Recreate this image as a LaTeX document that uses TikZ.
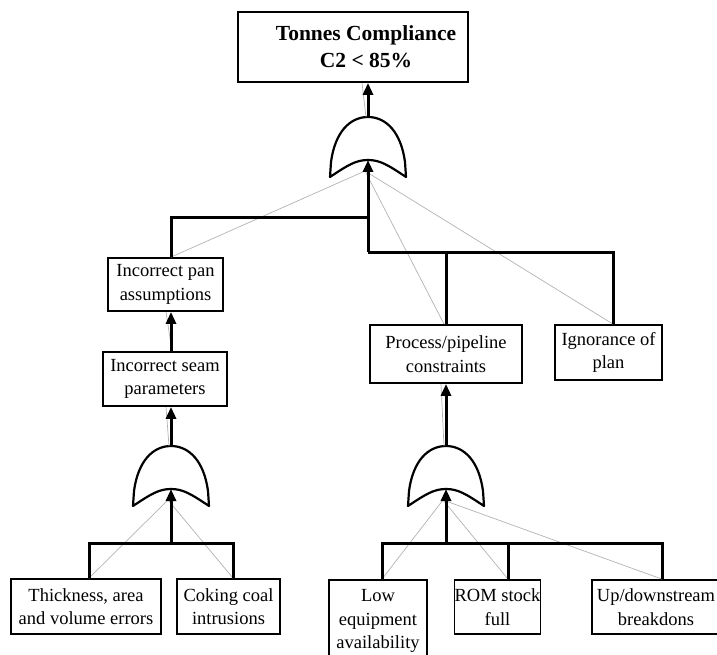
\documentclass[tikz,border=0pt]{standalone}
\usepackage{fontspec}
\setmainfont{Liberation Serif}
\usetikzlibrary{arrows.meta}
\begin{document}
\begin{tikzpicture}[x=1pt,y=-1pt,
  box/.style={draw=black, line width=1.8pt, fill=white, inner sep=0pt, align=center,
    font=\fontsize{18.5}{23.5}\selectfont},
  link/.style={line width=3pt, line cap=butt, line join=miter},
  feed/.style={link, -{Triangle[length=12pt,width=10pt]}},
  trace/.style={draw=black!30, line width=0.7pt},
  gateline/.style={line width=2.2pt, line join=round, fill=white},
  orgate/.pic={
    \draw[gateline] (-38,60) -- (-37,45) .. controls (-33,15) and (-18,0) .. (0,0)
      .. controls (18,0) and (33,15) .. (37,45) -- (38,60)
      .. controls (20,48) and (12,43) .. (0,43)
      .. controls (-12,43) and (-20,48) .. (-38,60) -- cycle;
    \coordinate (-top) at (0,0);
    \coordinate (-in) at (0,43);
    \coordinate (-src) at (-3,54);
  }
]
\useasboundingbox (0,0) rectangle (717,655);

% top event
\node[box, minimum width=230pt, minimum height=70pt] (top) at (353,47) {};
\node[inner sep=0pt, align=center, font=\fontsize{21.5}{27}\selectfont\bfseries]
  (toptext) at (366,47) {Tonnes Compliance\\C2 < 85\%};

% events
\node[box, minimum width=115pt, minimum height=53pt] (pan)   at (165.5,284.5) {Incorrect pan\\assumptions};
\node[box, minimum width=124pt, minimum height=54pt] (seam)  at (165,379)     {Incorrect seam\\parameters};
\node[box, minimum width=152pt, minimum height=58pt] (proc)  at (446,354)     {Process/pipeline\\constraints};
\node[box, minimum width=107pt, minimum height=55pt] (ign)   at (608.5,352.5) {Ignorance of\\plan};
\node[box, minimum width=150pt, minimum height=55pt] (thick) at (86,606.5)    {Thickness, area\\and volume errors};
\node[box, minimum width=103pt, minimum height=55pt] (coke)  at (228.5,606.5) {Coking coal\\intrusions};
\node[box, minimum width=98pt,  minimum height=82pt] (low)   at (378,621)     {Low\\equipment\\availability};
\node[box, minimum width=81pt,  minimum height=54pt] (rom)   at (497.5,607)   {ROM stock\\full};
\node[box, minimum width=128pt, minimum height=54pt] (up)    at (656,607)     {Up/downstream\\breakdons};

% OR gates
\pic (g0) at (368,117) {orgate};
\pic (g1) at (171,446) {orgate};
\pic (g2) at (446,446) {orgate};

% junction points
\coordinate (j0) at (368,217);
\coordinate (j1) at (368,252);
\coordinate (j2) at (171,543);
\coordinate (j3) at (446,543);

% thin grey traces
\draw[trace] (g0-src) -- (pan.north -| g1-top);
\draw[trace] (g0-src) -- ([xshift=-2pt]proc.north);
\draw[trace] (g0-src) -- ([xshift=4.5pt]ign.north);
\draw[trace] ([xshift=-2pt]g0-top) -- ([xshift=-6pt]top.south -| g0-top);
\draw[trace] (g1-src) -- ([xshift=3pt]thick.north);
\draw[trace] (g1-src) -- ([xshift=4.5pt]coke.north);
\draw[trace] ([xshift=-2pt]g1-top) -- ([xshift=-5pt]seam.south -| g1-top);
\draw[trace] ([xshift=1pt]seam.north -| g1-top) -- ([xshift=-5pt]pan.south -| g1-top);
\draw[trace] (g2-src) -- ([xshift=4pt]low.north);
\draw[trace] (g2-src) -- ([xshift=10.5pt]rom.north);
\draw[trace] (g2-src) -- ([xshift=6pt]up.north);
\draw[trace] ([xshift=-2pt]g2-top) -- ([xshift=-5pt]proc.south);

% top gate inputs and output
\draw[link] (pan.north -| g1-top) |- (j0);
\draw[link] (proc.north) |- (j1);
\draw[link] ([xshift=4.5pt]ign.north) |- (j1);
\draw[feed] (j1) -- (g0-in);
\draw[feed] (g0-top) -- (top.south -| g0-top);

% left branch
\draw[feed] (seam.north -| g1-top) -- (pan.south -| g1-top);
\draw[feed] (g1-top) -- (seam.south -| g1-top);
\draw[link] ([xshift=3pt]thick.north) |- (j2) -| ([xshift=4.5pt]coke.north);
\draw[feed] (j2) -- (g1-in);

% right branch
\draw[feed] (g2-top) -- (proc.south);
\draw[link] ([xshift=4pt]low.north) |- (j3) -| ([xshift=6pt]up.north);
\draw[link] ([xshift=10.5pt]rom.north) |- (j3);
\draw[feed] (j3) -- (g2-in);
\end{tikzpicture}
\end{document}
